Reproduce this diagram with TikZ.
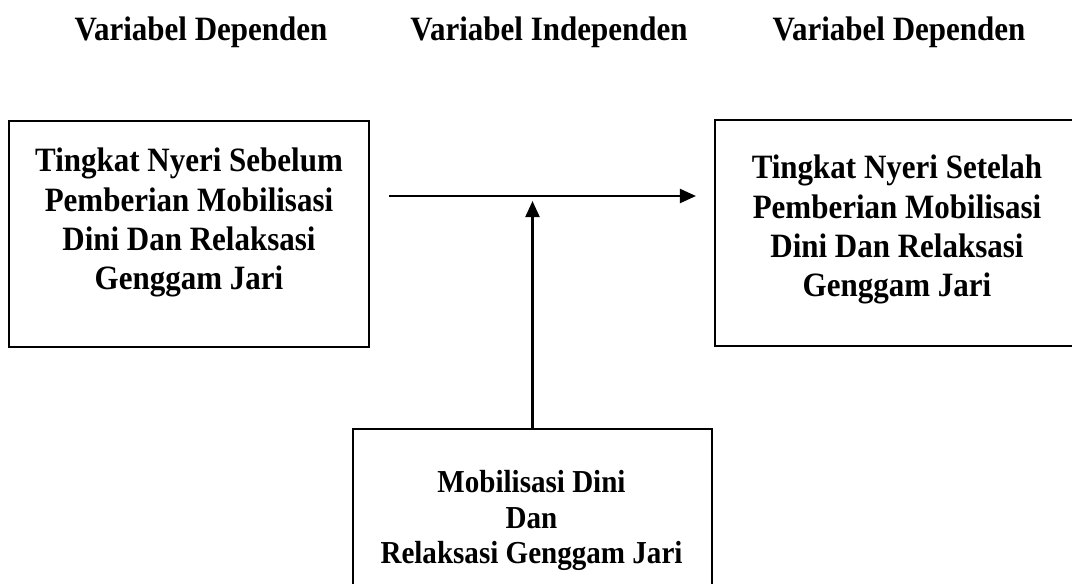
\documentclass[tikz,border=0pt]{standalone}
\usepackage{fontspec}
\usepackage{graphicx}
\setmainfont{Liberation Serif}
\usetikzlibrary{arrows.meta}
\newcommand{\tinggi}[1]{\scalebox{1}[1.1]{\begin{tabular}{@{}c@{}}#1\end{tabular}}}
\tikzset{
  box/.style={draw, line width=1.6pt, inner sep=0pt},
  heading/.style={font=\fontsize{23.25pt}{24pt}\selectfont\bfseries, anchor=base, inner sep=0pt},
  boxtext/.style={font=\fontsize{23.25pt}{26.6pt}\selectfont\bfseries, inner sep=0pt},
  smalltext/.style={font=\fontsize{21.8pt}{23.9pt}\selectfont\bfseries, inner sep=0pt},
  flow/.style={line width=1.6pt, -{Triangle[length=12pt,width=10.5pt]}}
}
\begin{document}
\begin{tikzpicture}[x=0.75pt,y=-0.75pt]
\useasboundingbox (0,0) rectangle (1072,583);
% headings
\node[heading] (hdKiri) at (201,40) {\scalebox{1}[1.1]{Variabel Dependen}};
\node[heading] (hdTengah) at (549,40) {\scalebox{1}[1.1]{Variabel Independen}};
\node[heading] (hdKanan) at (899,40) {\scalebox{1}[1.1]{Variabel Dependen}};
% boxes
\node[box, minimum width=270pt, minimum height=169.5pt] (sebelum) at (189,234) {};
\node[box, minimum width=273pt, minimum height=169.5pt] (sesudah) at (897,233) {};
\node[box, minimum width=269.25pt, minimum height=150pt] (intervensi) at (532.5,529) {};
\node[boxtext] (txtSebelum) at (189,222.7) {\tinggi{Tingkat Nyeri Sebelum\\Pemberian Mobilisasi\\Dini Dan Relaksasi\\Genggam Jari}};
\node[boxtext] (txtSesudah) at (897,229.7) {\tinggi{Tingkat Nyeri Setelah\\Pemberian Mobilisasi\\Dini Dan Relaksasi\\Genggam Jari}};
\node[smalltext] (txtIntervensi) at (531.5,521) {\tinggi{Mobilisasi Dini\\Dan\\Relaksasi Genggam Jari}};
% arrows
\coordinate (hLine) at (0,196);
\coordinate (vTip) at (0,201);
\draw[flow, shorten <=14.25pt, shorten >=13.5pt] (sebelum.east |- hLine) -- (sesudah.west |- hLine);
\draw[flow] (intervensi.north) -- (intervensi.north |- vTip);
\end{tikzpicture}
\end{document}
